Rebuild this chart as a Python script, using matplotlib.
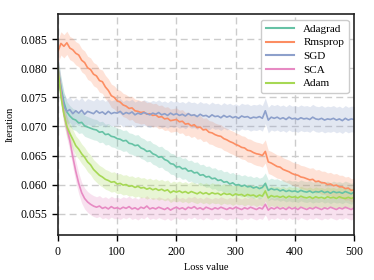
import numpy as np
import matplotlib
matplotlib.use("Agg")
import matplotlib.pyplot as plt

steps = list(range(0, 501, 5))

adagrad = [0.0800, 0.0768, 0.0742, 0.0725, 0.0718, 0.0713, 0.0711, 0.0706, 0.0707, 0.0701,
           0.0699, 0.0697, 0.0695, 0.0694, 0.0690, 0.0691, 0.0686, 0.0687, 0.0683, 0.0682,
           0.0679, 0.0678, 0.0675, 0.0676, 0.0671, 0.0670, 0.0667, 0.0668, 0.0663, 0.0661,
           0.0657, 0.0658, 0.0653, 0.0651, 0.0647, 0.0648, 0.0643, 0.0641, 0.0636, 0.0635,
           0.0630, 0.0631, 0.0627, 0.0628, 0.0623, 0.0624, 0.0620, 0.0621, 0.0616, 0.0617,
           0.0613, 0.0614, 0.0610, 0.0611, 0.0607, 0.0608, 0.0604, 0.0605, 0.0601, 0.0603,
           0.0599, 0.0600, 0.0597, 0.0599, 0.0596, 0.0597, 0.0594, 0.0596, 0.0593, 0.0595,
           0.0602, 0.0590, 0.0593, 0.0591, 0.0592, 0.0589, 0.0591, 0.0588, 0.0590, 0.0588,
           0.0589, 0.0587, 0.0590, 0.0588, 0.0587, 0.0589, 0.0586, 0.0588, 0.0587, 0.0589,
           0.0586, 0.0588, 0.0585, 0.0588, 0.0586, 0.0587, 0.0585, 0.0588, 0.0586, 0.0584,
           0.0587]

rmsprop = [0.0829, 0.0843, 0.0838, 0.0844, 0.0835, 0.0832, 0.0826, 0.0823, 0.0814, 0.0810,
           0.0801, 0.0798, 0.0790, 0.0787, 0.0779, 0.0777, 0.0768, 0.0762, 0.0753, 0.0750,
           0.0744, 0.0742, 0.0737, 0.0735, 0.0731, 0.0732, 0.0727, 0.0726, 0.0724, 0.0725,
           0.0721, 0.0722, 0.0719, 0.0720, 0.0716, 0.0717, 0.0713, 0.0714, 0.0710, 0.0711,
           0.0712, 0.0708, 0.0709, 0.0704, 0.0705, 0.0701, 0.0703, 0.0698, 0.0699, 0.0694,
           0.0695, 0.0690, 0.0689, 0.0686, 0.0684, 0.0683, 0.0679, 0.0677, 0.0674, 0.0672,
           0.0669, 0.0667, 0.0664, 0.0663, 0.0659, 0.0658, 0.0655, 0.0653, 0.0652, 0.0650,
           0.0657, 0.0639, 0.0637, 0.0634, 0.0631, 0.0630, 0.0626, 0.0624, 0.0622, 0.0619,
           0.0617, 0.0616, 0.0613, 0.0612, 0.0610, 0.0608, 0.0609, 0.0605, 0.0606, 0.0603,
           0.0603, 0.0600, 0.0601, 0.0598, 0.0599, 0.0596, 0.0596, 0.0593, 0.0594, 0.0590,
           0.0591]

sgd = [0.0800, 0.0762, 0.0735, 0.0726, 0.0729, 0.0722, 0.0727, 0.0723, 0.0728, 0.0721,
       0.0726, 0.0724, 0.0722, 0.0727, 0.0723, 0.0725, 0.0721, 0.0726, 0.0722, 0.0724,
       0.0723, 0.0726, 0.0721, 0.0724, 0.0722, 0.0725, 0.0720, 0.0723, 0.0721, 0.0724,
       0.0722, 0.0720, 0.0723, 0.0721, 0.0724, 0.0720, 0.0722, 0.0719, 0.0723, 0.0720,
       0.0722, 0.0719, 0.0721, 0.0718, 0.0722, 0.0719, 0.0720, 0.0717, 0.0721, 0.0718,
       0.0719, 0.0716, 0.0720, 0.0717, 0.0718, 0.0715, 0.0719, 0.0716, 0.0718, 0.0715,
       0.0717, 0.0714, 0.0718, 0.0716, 0.0717, 0.0714, 0.0716, 0.0715, 0.0717, 0.0714,
       0.0727, 0.0711, 0.0716, 0.0714, 0.0716, 0.0713, 0.0715, 0.0712, 0.0716, 0.0713,
       0.0714, 0.0712, 0.0715, 0.0713, 0.0714, 0.0712, 0.0716, 0.0713, 0.0712, 0.0714,
       0.0711, 0.0713, 0.0712, 0.0714, 0.0711, 0.0713, 0.0710, 0.0714, 0.0711, 0.0713,
       0.0712]

sca = [0.0800, 0.0760, 0.0722, 0.0698, 0.0676, 0.0648, 0.0623, 0.0602, 0.0586, 0.0576,
       0.0570, 0.0566, 0.0563, 0.0561, 0.0563, 0.0559, 0.0561, 0.0558, 0.0562, 0.0559,
       0.0560, 0.0558, 0.0561, 0.0559, 0.0562, 0.0558, 0.0560, 0.0557, 0.0561, 0.0559,
       0.0563, 0.0558, 0.0560, 0.0558, 0.0561, 0.0559, 0.0557, 0.0560, 0.0556, 0.0559,
       0.0561, 0.0558, 0.0560, 0.0557, 0.0561, 0.0559, 0.0562, 0.0558, 0.0560, 0.0557,
       0.0561, 0.0559, 0.0557, 0.0560, 0.0558, 0.0561, 0.0559, 0.0557, 0.0560, 0.0558,
       0.0561, 0.0559, 0.0557, 0.0560, 0.0558, 0.0561, 0.0559, 0.0557, 0.0560, 0.0558,
       0.0566, 0.0556, 0.0560, 0.0558, 0.0561, 0.0558, 0.0560, 0.0557, 0.0561, 0.0558,
       0.0560, 0.0557, 0.0561, 0.0559, 0.0557, 0.0560, 0.0558, 0.0561, 0.0559, 0.0557,
       0.0560, 0.0558, 0.0561, 0.0559, 0.0557, 0.0560, 0.0558, 0.0561, 0.0559, 0.0557,
       0.0560]

adam = [0.0800, 0.0752, 0.0722, 0.0700, 0.0688, 0.0678, 0.0667, 0.0661, 0.0653, 0.0647,
        0.0639, 0.0634, 0.0626, 0.0621, 0.0616, 0.0613, 0.0609, 0.0607, 0.0604, 0.0605,
        0.0601, 0.0602, 0.0599, 0.0600, 0.0597, 0.0598, 0.0595, 0.0597, 0.0594, 0.0595,
        0.0592, 0.0594, 0.0591, 0.0593, 0.0590, 0.0592, 0.0589, 0.0591, 0.0586, 0.0589,
        0.0587, 0.0589, 0.0586, 0.0588, 0.0585, 0.0588, 0.0586, 0.0584, 0.0587, 0.0584,
        0.0586, 0.0583, 0.0586, 0.0584, 0.0585, 0.0582, 0.0585, 0.0583, 0.0584, 0.0581,
        0.0584, 0.0582, 0.0583, 0.0580, 0.0583, 0.0581, 0.0582, 0.0579, 0.0582, 0.0580,
        0.0589, 0.0577, 0.0581, 0.0579, 0.0580, 0.0578, 0.0580, 0.0577, 0.0580, 0.0578,
        0.0579, 0.0577, 0.0580, 0.0578, 0.0577, 0.0579, 0.0576, 0.0579, 0.0577, 0.0578,
        0.0576, 0.0579, 0.0577, 0.0578, 0.0576, 0.0579, 0.0577, 0.0576, 0.0578, 0.0576,
        0.0578]

names = ["Adagrad", "Rmsprop", "SGD", "SCA", "Adam"]
series = [adagrad, rmsprop, sgd, sca, adam]
band_half = [0.0018, 0.0020, 0.0022, 0.0018, 0.0017]
colors = ["#66c2a5", "#fc8d62", "#8da0cb", "#e78ac3", "#a6d854"]

plt.rcParams['font.family'] = ['Liberation Serif', 'DejaVu Serif']
plt.rcParams['mathtext.fontset'] = 'stix'

fig = plt.figure(figsize=(3.74, 2.80), dpi=100)
ax = fig.add_axes([0.155, 0.160, 0.792, 0.790])

x = np.array(steps)
for name, vals, hw, c in zip(names, series, band_half, colors):
    v = np.array(vals)
    ax.fill_between(x, v - hw, v + hw, color=c, alpha=0.25, linewidth=0)
    ax.plot(x, v, color=c, linewidth=1.2, label=name)

ax.set_xlim(0, 500)
ax.set_ylim(0.05128, 0.08936)
ax.set_xticks([0, 100, 200, 300, 400, 500])
ax.set_yticks([0.055, 0.060, 0.065, 0.070, 0.075, 0.080, 0.085])
ax.set_yticklabels(["0.055", "0.060", "0.065", "0.070", "0.075", "0.080", "0.085"])
ax.grid(True, linestyle=(0, (5, 3)), color="#cccccc", linewidth=1.0)
ax.set_axisbelow(True)
for s in ax.spines.values():
    s.set_linewidth(1.2)
    s.set_color("#222222")
ax.tick_params(labelsize=8.5, length=4, width=1.0)
ax.set_xlabel("Loss value", fontsize=7.5)
ax.set_ylabel("Iteration", fontsize=7.5)
leg = ax.legend(loc="upper right", fontsize=8, handlelength=2.6, framealpha=1.0,
                edgecolor="#cccccc", borderpad=0.4, labelspacing=0.35)
for l in leg.get_lines():
    l.set_linewidth(1.5)

fig.savefig("out.png", dpi=100)
